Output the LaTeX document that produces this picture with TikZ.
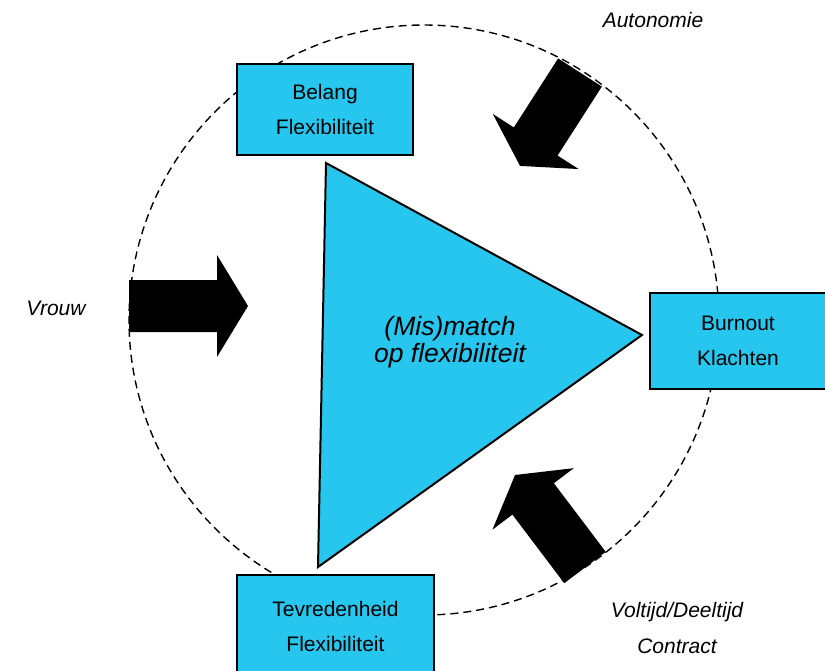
\documentclass[tikz,border=0pt]{standalone}
\usepackage{fontspec}
\setmainfont{Liberation Sans}
\usetikzlibrary{calc}

\definecolor{flexcyan}{RGB}{38,198,238}

% fat block arrow: tail point, direction angle, length, head length
\newcommand{\fatarrow}[4]{%
  \begin{scope}[shift={(#1)}, rotate=#2]
    \fill (0,-26) -- ({#3-#4},-26) -- ({#3-#4},-51) -- (#3,0)
      -- ({#3-#4},51) -- ({#3-#4},26) -- (0,26) -- cycle;
  \end{scope}}

\begin{document}
\begin{tikzpicture}[x=1pt, y=-1pt,
    box/.style={draw, line width=2pt, fill=flexcyan, align=center,
      font=\fontsize{21}{35}\selectfont, inner sep=0pt},
    label/.style={font=\fontsize{21}{36}\selectfont\itshape, align=center, inner sep=0pt}]

    \useasboundingbox (0,0) rectangle (825,670);

    % Centre
    \coordinate (C) at (424,320);

    % Dashed circle
    \draw[line width=1.4pt, dash pattern=on 8pt off 5pt] (C) circle (295);

    % Boxes
    \node[box, minimum width=176, minimum height=91] (belang) at (325,109.5)
      {Belang\\Flexibiliteit};
    \node[box, minimum width=176, minimum height=96] (burnout) at (738,341)
      {Burnout\\Klachten};
    \node[box, minimum width=197, minimum height=102] (tevreden) at (335.5,626)
      {Tevredenheid\\Flexibiliteit};

    % Triangle
    \coordinate (T1) at (326,163);
    \coordinate (T2) at (318,567);
    \coordinate (T3) at (642,335);
    \filldraw[fill=flexcyan, line width=2pt, line join=miter] (T1) -- (T2) -- (T3) -- cycle;
    \node[font=\fontsize{26.5}{27}\selectfont\itshape, align=center, inner sep=0pt]
      (match) at (450,342) {(Mis)match\\op flexibiliteit};

    % Arrows
    \coordinate (vrouwTail) at (129,306);
    \coordinate (autoTail) at (580,72.5);
    \coordinate (contractTail) at (585,567.5);
    \fatarrow{vrouwTail}{0}{119}{31}
    \fatarrow{autoTail}{-122.7}{111}{29}
    \fatarrow{contractTail}{127.1}{116}{30}

    % Labels
    \node[label, anchor=base] (vrouw) at (56,315) {Vrouw};
    \node[label, anchor=base] (autonomie) at (653,27) {Autonomie};
    \node[label] (contract) at (677,627.5) {Voltijd/Deeltijd\\Contract};

\end{tikzpicture}
\end{document}
